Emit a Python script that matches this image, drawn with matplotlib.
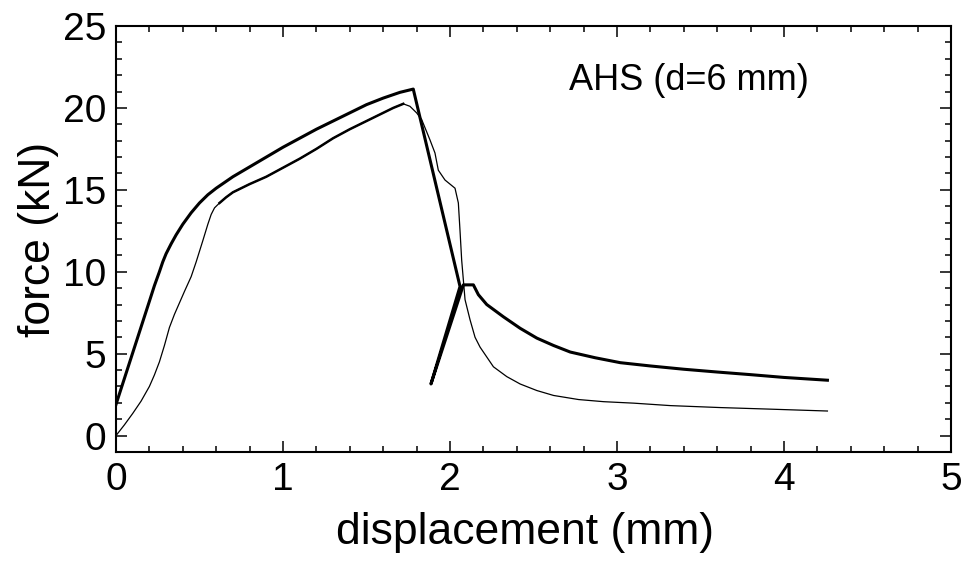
import matplotlib
matplotlib.use("Agg")
import matplotlib.pyplot as plt
from matplotlib.ticker import MultipleLocator

# sample with thick line (upper curve)
disp_a = [0.0, 0.10, 0.20, 0.23, 0.26, 0.28, 0.30, 0.33, 0.36, 0.40, 0.45, 0.50, 0.55,
          0.60, 0.65, 0.70, 0.80, 0.90, 1.00, 1.10, 1.20, 1.30, 1.40, 1.50, 1.60,
          1.70, 1.78,
          2.06, 1.886, 2.08, 2.14, 2.17, 2.22, 2.32, 2.42, 2.52, 2.62, 2.72,
          2.87, 3.02, 3.20, 3.40, 3.60, 3.80, 4.00, 4.26]
force_a = [1.9, 5.05, 8.2, 9.15, 10.0, 10.6, 11.1, 11.7, 12.25, 12.9, 13.6, 14.2, 14.7,
           15.1, 15.45, 15.8, 16.4, 17.0, 17.6, 18.15, 18.7, 19.2, 19.7, 20.2, 20.6,
           20.95, 21.15,
           9.1, 3.15, 9.2, 9.2, 8.6, 8.0, 7.25, 6.55, 5.95, 5.5, 5.1,
           4.75, 4.45, 4.25, 4.05, 3.88, 3.72, 3.55, 3.38]

# sample with thin line (lower curve)
disp_b = [0.0, 0.05, 0.10, 0.15, 0.20, 0.23, 0.26, 0.29, 0.32, 0.35, 0.38, 0.41, 0.45,
          0.48, 0.52, 0.55, 0.57, 0.59, 0.62, 0.66, 0.70, 0.80, 0.90, 1.00, 1.10,
          1.20, 1.30, 1.40, 1.50, 1.60, 1.66, 1.72, 1.76, 1.80, 1.83, 1.88, 1.91,
          1.93, 1.97, 2.03, 2.05, 2.06, 2.07, 2.09, 2.12, 2.15, 2.18, 2.26, 2.34,
          2.42, 2.52, 2.62, 2.77, 2.92, 3.10, 3.32, 3.62, 3.90, 4.26]
force_b = [0.0, 0.65, 1.35, 2.1, 3.0, 3.7, 4.5, 5.5, 6.6, 7.4, 8.1, 8.8, 9.7,
           10.6, 11.9, 12.9, 13.5, 13.9, 14.2, 14.55, 14.85, 15.35, 15.8, 16.35, 16.9,
           17.5, 18.15, 18.7, 19.2, 19.7, 20.0, 20.25, 20.1, 19.7, 19.3, 18.05, 17.25,
           16.2, 15.6, 15.1, 14.2, 12.5, 10.7, 8.3, 7.07, 6.0, 5.4, 4.2, 3.6,
           3.15, 2.75, 2.45, 2.2, 2.07, 1.98, 1.83, 1.71, 1.62, 1.5]

x_ticks = [0, 1, 2, 3, 4, 5]
y_ticks = [0, 5, 10, 15, 20, 25]

plt.rcParams['font.family'] = ['Liberation Sans', 'DejaVu Sans']

fig = plt.figure(figsize=(9.65, 5.63), dpi=100)
ax = fig.add_axes([0.1202, 0.1972, 0.8653, 0.7566])

ax.plot(disp_a, force_a, color='black', lw=2.2, solid_joinstyle='round')
ax.plot(disp_b, force_b, color='black', lw=0.9)
# the noisy plateau of the thin curve reads thicker in the original
ax.plot(disp_b[18:32], force_b[18:32], color='black', lw=1.8)

ax.set_xlim(0, 5)
ax.set_ylim(-1, 25)
ax.set_xticks(x_ticks)
ax.set_yticks(y_ticks)
ax.xaxis.set_minor_locator(MultipleLocator(0.2))
ax.yaxis.set_minor_locator(MultipleLocator(1))
ax.tick_params(which='both', direction='in', top=True, right=True, width=1.1,
               labelsize=28, pad=7)
ax.tick_params(which='major', length=8)
ax.tick_params(which='minor', length=4.5)
for sp in ax.spines.values():
    sp.set_linewidth(1.5)

ax.set_xlabel('displacement (mm)', fontsize=32)
ax.xaxis.set_label_coords(0.49, -0.14)
ax.set_ylabel('force (kN)', fontsize=32, labelpad=3)
ax.text(2.71, 21.1, 'AHS (d=6 mm)', fontsize=26, va='baseline', ha='left')

fig.savefig('out.png', dpi=100)
